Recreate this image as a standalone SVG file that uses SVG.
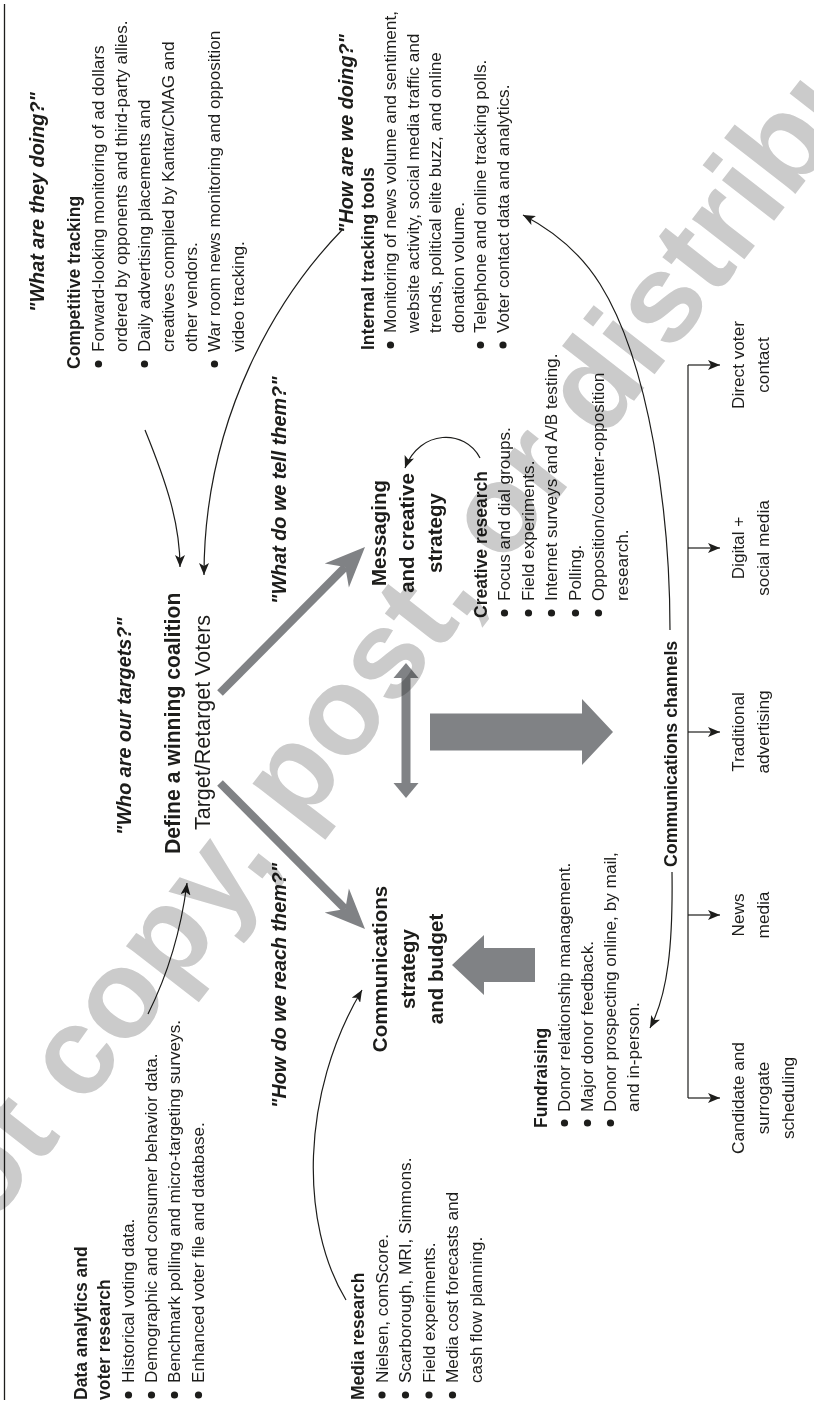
<svg xmlns="http://www.w3.org/2000/svg" width="814" height="1414" viewBox="0 0 814 1414">
<style>
text{font-family:'Liberation Sans',Arial,sans-serif;fill:#1d1d1b}
.h{font-size:17.5px;font-weight:bold}
.r{font-size:17.2px}
.q{font-size:19.8px;font-weight:bold;font-style:italic}
.m{font-size:20.5px;font-weight:bold;text-anchor:middle}
.l{font-size:17.2px;text-anchor:middle}
.c{fill:none;stroke:#1d1d1b;stroke-width:1.2}
.g{fill:#808285}
.gs{stroke:#808285;fill:none}
.dot{fill:#1d1d1b}
.wm{font-family:'Liberation Sans',Arial,sans-serif;font-weight:bold;font-size:125px;fill:#cbcbcb;mix-blend-mode:multiply}
</style>
<defs>
<marker id="ah" viewBox="0 0 12 10" refX="12" refY="5" markerWidth="12" markerHeight="10" markerUnits="userSpaceOnUse" orient="auto"><path d="M0,0 L12,5 L0,10 L3,5 Z" fill="#1d1d1b"/></marker>
</defs>
<rect width="814" height="1414" fill="#fff"/>
<g transform="translate(0,1414) rotate(-90)">
<line x1="14" y1="4.5" x2="1410" y2="4.5" stroke="#1d1d1b" stroke-width="1.3"/>

<g id="competitive">
<text class="q" x="1102" y="44">"What are they doing?"</text>
<text class="h" x="1045" y="80">Competitive tracking</text>
<circle class="dot" cx="1050" cy="98.5" r="3.6"/><circle class="dot" cx="1050" cy="144.5" r="3.6"/><circle class="dot" cx="1050" cy="214.5" r="3.6"/>
<text class="r" x="1062" y="104">Forward-looking monitoring of ad dollars</text>
<text class="r" x="1062" y="127">ordered by opponents and third-party allies.</text>
<text class="r" x="1062" y="150">Daily advertising placements and</text>
<text class="r" x="1062" y="174">creatives compiled by Kantar/CMAG and</text>
<text class="r" x="1062" y="197">other vendors.</text>
<text class="r" x="1062" y="220">War room news monitoring and opposition</text>
<text class="r" x="1062" y="244">video tracking.</text>
</g>

<g id="internal">
<text class="q" x="1181" y="353">"How are we doing?"</text>
<text class="h" x="1064" y="374">Internal tracking tools</text>
<circle class="dot" cx="1069" cy="390.5" r="3.6"/><circle class="dot" cx="1069" cy="480.5" r="3.6"/><circle class="dot" cx="1069" cy="503" r="3.6"/>
<text class="r" x="1081" y="396">Monitoring of news volume and sentiment,</text>
<text class="r" x="1081" y="418.5">website activity, social media traffic and</text>
<text class="r" x="1081" y="441">trends, political elite buzz, and online</text>
<text class="r" x="1081" y="463.5">donation volume.</text>
<text class="r" x="1081" y="486">Telephone and online tracking polls.</text>
<text class="r" x="1081" y="508.5">Voter contact data and analytics.</text>
</g>

<g id="define">
<text class="q" x="579" y="131">"Who are our targets?"</text>
<text x="560" y="180" style="font-size:21.2px;font-weight:bold">Define a winning coalition</text>
<text x="584" y="210" style="font-size:21.5px">Target/Retarget Voters</text>
</g>

<g id="messaging">
<text class="q" x="810" y="286">"What do we tell them?"</text>
<text class="m" x="881" y="386">Messaging</text>
<text class="m" x="881" y="414">and creative</text>
<text class="m" x="881" y="442">strategy</text>
</g>

<g id="creative">
<text class="h" x="796" y="487">Creative research</text>
<circle class="dot" cx="801" cy="504.5" r="3.6"/><circle class="dot" cx="801" cy="528.5" r="3.6"/><circle class="dot" cx="801" cy="551.5" r="3.6"/><circle class="dot" cx="801" cy="575.5" r="3.6"/><circle class="dot" cx="801" cy="598.5" r="3.6"/>
<text class="r" x="813" y="510">Focus and dial groups.</text>
<text class="r" x="813" y="534">Field experiments.</text>
<text class="r" x="813" y="557">Internet surveys and A/B testing.</text>
<text class="r" x="813" y="581">Polling.</text>
<text class="r" x="813" y="604">Opposition/counter-opposition</text>
<text class="r" x="813" y="628">research.</text>
</g>

<g id="communications">
<text class="q" x="306" y="286">"How do we reach them?"</text>
<text class="m" x="445" y="387">Communications</text>
<text class="m" x="445" y="415">strategy</text>
<text class="m" x="445" y="443">and budget</text>
</g>

<g id="fundraising">
<text class="h" x="286" y="547">Fundraising</text>
<circle class="dot" cx="291" cy="564.5" r="3.6"/><circle class="dot" cx="291" cy="587.5" r="3.6"/><circle class="dot" cx="291" cy="610.5" r="3.6"/>
<text class="r" x="302" y="570">Donor relationship management.</text>
<text class="r" x="302" y="593">Major donor feedback.</text>
<text class="r" x="302" y="616">Donor prospecting online, by mail,</text>
<text class="r" x="302" y="639">and in-person.</text>
</g>

<g id="media">
<text class="h" x="14" y="364">Media research</text>
<circle class="dot" cx="19" cy="382" r="3.6"/><circle class="dot" cx="19" cy="405.5" r="3.6"/><circle class="dot" cx="19" cy="429" r="3.6"/><circle class="dot" cx="19" cy="452.5" r="3.6"/>
<text class="r" x="31" y="387.5">Nielsen, comScore.</text>
<text class="r" x="31" y="411">Scarborough, MRI, Simmons.</text>
<text class="r" x="31" y="434.5">Field experiments.</text>
<text class="r" x="31" y="458">Media cost forecasts and</text>
<text class="r" x="31" y="481.5">cash flow planning.</text>
</g>

<g id="data">
<text class="h" x="14" y="87">Data analytics and</text>
<text class="h" x="14" y="110">voter research</text>
<circle class="dot" cx="19" cy="128.5" r="3.6"/><circle class="dot" cx="19" cy="151.5" r="3.6"/><circle class="dot" cx="19" cy="174.5" r="3.6"/><circle class="dot" cx="19" cy="198.5" r="3.6"/>
<text class="r" x="31" y="134">Historical voting data.</text>
<text class="r" x="31" y="157">Demographic and consumer behavior data.</text>
<text class="r" x="31" y="180">Benchmark polling and micro-targeting surveys.</text>
<text class="r" x="31" y="204">Enhanced voter file and database.</text>
</g>

<g id="channels">
<text x="547" y="677" style="font-size:17.8px;font-weight:bold">Communications channels</text>
<text class="l" x="316" y="744">Candidate and</text><text class="l" x="316" y="769">surrogate</text><text class="l" x="316" y="794">scheduling</text>
<text class="l" x="499" y="744">News</text><text class="l" x="499" y="769">media</text>
<text class="l" x="682" y="744">Traditional</text><text class="l" x="682" y="769">advertising</text>
<text class="l" x="866" y="744">Digital +</text><text class="l" x="866" y="769">social media</text>
<text class="l" x="1049" y="744">Direct voter</text><text class="l" x="1049" y="769">contact</text>
</g>

<g id="connectors">
<path class="c" d="M316,688 H1049"/>
<path class="c" d="M316,688 V720" marker-end="url(#ah)"/>
<path class="c" d="M499,688 V720" marker-end="url(#ah)"/>
<path class="c" d="M682,688 V720" marker-end="url(#ah)"/>
<path class="c" d="M866,688 V720" marker-end="url(#ah)"/>
<path class="c" d="M1049,688 V720" marker-end="url(#ah)"/>
<path class="c" d="M984,145 C930,167 890,180 847,180" marker-end="url(#ah)"/>
<path class="c" d="M1184,342 C1120,280 1000,204 839,204" marker-end="url(#ah)"/>
<path class="c" d="M400,148 Q460,178 531,187" marker-end="url(#ah)"/>
<path class="c" d="M114,346 C190,300 320,300 424,362" marker-end="url(#ah)"/>
<path class="c" d="M542,672 C470,673 420,668 386,650" marker-end="url(#ah)"/>
<path class="c" d="M784,670 C900,670 1050,650 1130,600 C1165,578 1185,550 1199,523" marker-end="url(#ah)"/>
<path class="c" d="M956,480 C985,465 985,420 946,405" marker-end="url(#ah)"/>
<line class="gs" x1="721" y1="220" x2="847.1" y2="345.3" stroke-width="8"/>
<polygon class="g" points="867,365 826.6,348.9 847.1,345.3 850.6,324.7"/>
<line class="gs" x1="631" y1="220" x2="504.9" y2="345.3" stroke-width="8"/>
<polygon class="g" points="485,365 501.4,324.7 504.9,345.3 525.4,348.9"/>
<line class="gs" x1="628" y1="406" x2="739" y2="406" stroke-width="9"/>
<polygon class="g" points="616,406 631,393.5 631,418.5"/>
<polygon class="g" points="751,406 736,393.5 736,418.5"/>
<polygon class="g" points="663.5,430 700.5,430 700.5,582 715,582 682,613 649,582 663.5,582"/>
<polygon class="g" points="432,535 466,535 466,484 479,484 449,452 419,484 432,484"/>
</g>
</g>
<text class="wm" transform="translate(-181,1448) rotate(-52.1)">Do not copy, post, or distribute</text>
</svg>
